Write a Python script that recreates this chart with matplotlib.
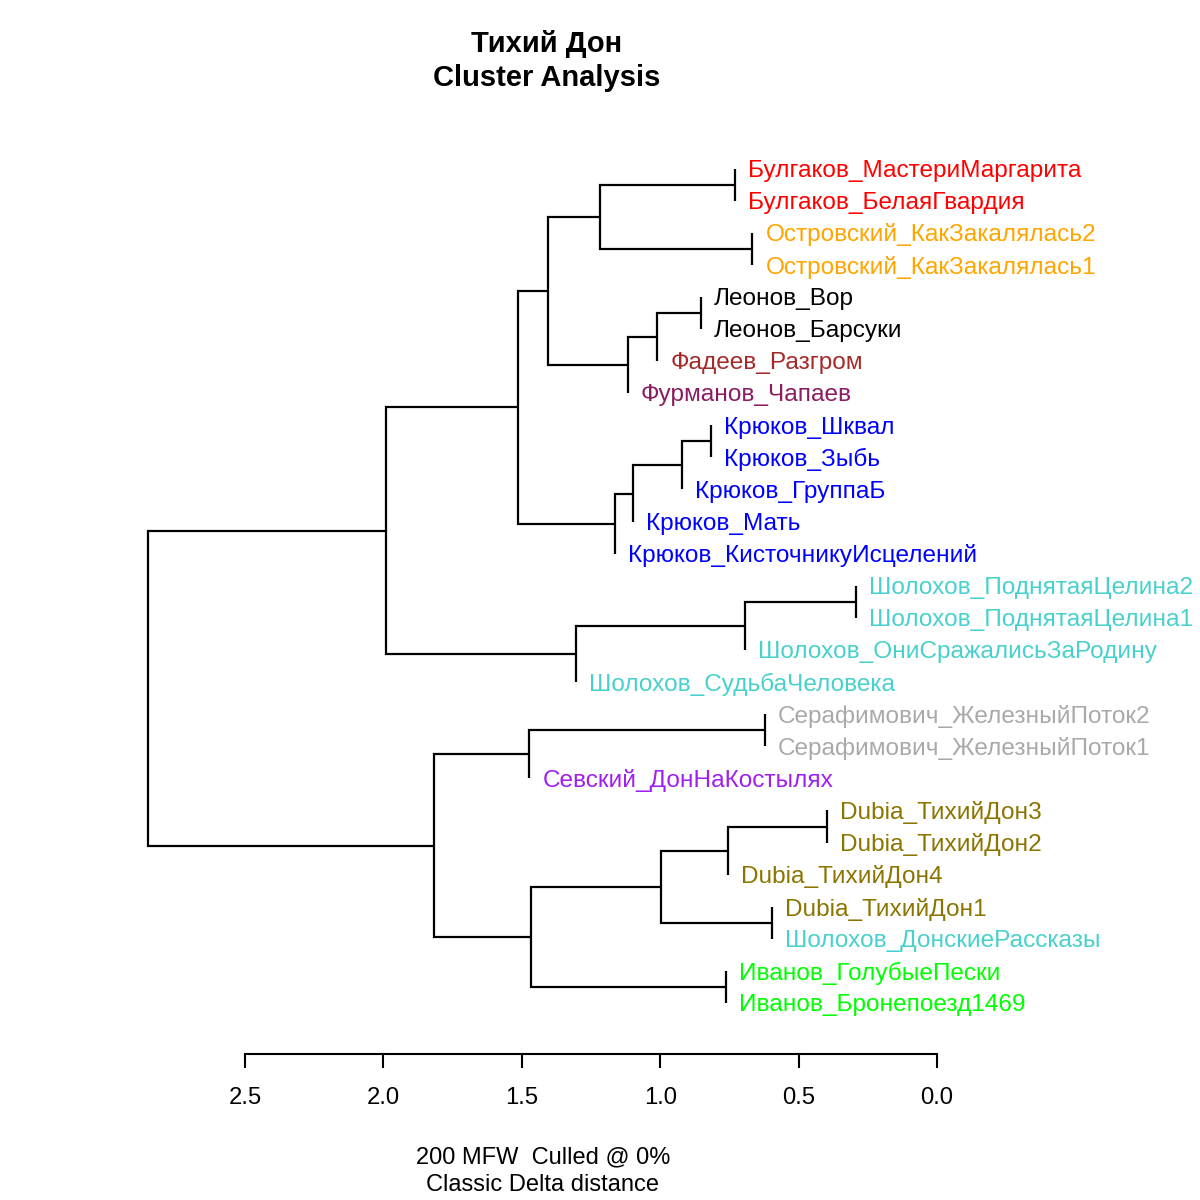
import matplotlib
matplotlib.use("Agg")
import matplotlib.pyplot as plt

plt.rcParams['font.family'] = ['Liberation Sans', 'DejaVu Sans']

# ---- data ----
leaf_labels = [
    "Булгаков_МастериМаргарита", "Булгаков_БелаяГвардия",
    "Островский_КакЗакалялась2", "Островский_КакЗакалялась1",
    "Леонов_Вор", "Леонов_Барсуки", "Фадеев_Разгром", "Фурманов_Чапаев",
    "Крюков_Шквал", "Крюков_Зыбь", "Крюков_ГруппаБ", "Крюков_Мать",
    "Крюков_КисточникуИсцелений",
    "Шолохов_ПоднятаяЦелина2", "Шолохов_ПоднятаяЦелина1",
    "Шолохов_ОниСражалисьЗаРодину", "Шолохов_СудьбаЧеловека",
    "Серафимович_ЖелезныйПоток2", "Серафимович_ЖелезныйПоток1",
    "Севский_ДонНаКостылях",
    "Dubia_ТихийДон3", "Dubia_ТихийДон2", "Dubia_ТихийДон4", "Dubia_ТихийДон1",
    "Шолохов_ДонскиеРассказы",
    "Иванов_ГолубыеПески", "Иванов_Бронепоезд1469",
]
leaf_colors = [
    "red", "red", "orange", "orange", "black", "black", "brown", "#8B1C62",
    "blue", "blue", "blue", "blue", "blue",
    "#48D1CC", "#48D1CC", "#48D1CC", "#48D1CC",
    "darkgrey", "darkgrey", "#A020F0",
    "#8B7500", "#8B7500", "#8B7500", "#8B7500", "#48D1CC",
    "#00FF00", "#00FF00",
]
# hclust-style merges: negative = leaf (1-based), positive = earlier merge (1-based)
merge_left = [-14, -21, -24, -18, -3, 1, -1, 2, -26, -9, -5, 10, 8, 11, 12, 14, 15, 7, 6, 18, 13, 4, 20, 22, 23, 25]
merge_right = [-15, -22, -25, -19, -4, -16, -2, -23, -27, -10, -6, -11, 3, -7, -12, -8, -13, 5, -17, 16, 9, -20, 17, 21, 19, 24]
merge_height = [0.294, 0.396, 0.595, 0.621, 0.667, 0.694, 0.730, 0.756, 0.762,
                0.818, 0.854, 0.921, 0.997, 1.010, 1.098, 1.117, 1.164, 1.217,
                1.304, 1.404, 1.467, 1.473, 1.513, 1.816, 1.991, 2.849]
axis_ticks = [2.5, 2.0, 1.5, 1.0, 0.5, 0.0]

title_lines = ["Тихий Дон", "Cluster Analysis"]
sub_lines = ["200 MFW  Culled @ 0%", "Classic Delta distance"]

# ---- figure ----
W = H = 1200
fig = plt.figure(figsize=(12, 12), dpi=100)
ax = fig.add_axes([245 / W, (H - 1054) / H, (937 - 245) / W, (1054 - 120) / H])
ax.set_xlim(2.5, 0.0)
ax.set_ylim(27.586, -1.511)

n_leaves = len(leaf_labels)
leaf_y = list(range(n_leaves))
node_x = []
node_y = []
leaf_x = [0.0] * n_leaves


def child_pos(c):
    if c < 0:
        return None, leaf_y[-c - 1]
    return node_x[c - 1], node_y[c - 1]


for l, r, h in zip(merge_left, merge_right, merge_height):
    lx, ly = child_pos(l)
    rx, ry = child_pos(r)
    if l < 0:
        lx = h
        leaf_x[-l - 1] = h
    if r < 0:
        rx = h
        leaf_x[-r - 1] = h
    ax.plot([lx, h, h, rx], [ly, ly, ry, ry], color="black", lw=1.6,
            solid_joinstyle="miter", solid_capstyle="butt", clip_on=False)
    node_x.append(h)
    node_y.append((ly + ry) / 2)

label_offset = 0.047
label_dy = 0.07
for lab, col, x, y in zip(leaf_labels, leaf_colors, leaf_x, leaf_y):
    ax.text(x - label_offset, y + label_dy, lab, color=col, fontsize=17.6,
            ha="left", va="center", clip_on=False)

for s in ["top", "left", "right"]:
    ax.spines[s].set_visible(False)
ax.spines["bottom"].set_linewidth(1.5)
ax.set_yticks([])
ax.set_xticks(axis_ticks)
ax.set_xticklabels([f"{t:.1f}" for t in axis_ticks], fontsize=17.2)
ax.tick_params(axis="x", direction="out", length=10, width=1.5, pad=14)
ax.patch.set_visible(False)

fig.text(547 / W, 1 - 43.5 / H, title_lines[0], ha="center", va="center",
         fontsize=21, weight="bold")
fig.text(547 / W, 1 - 78.5 / H, title_lines[1], ha="center", va="center",
         fontsize=21, weight="bold")
fig.text(543 / W, 1 - 1157 / H, sub_lines[0], ha="center", va="center", fontsize=17)
fig.text(543 / W, 1 - 1185 / H, sub_lines[1], ha="center", va="center", fontsize=17)

fig.savefig("out.png", dpi=100, facecolor="white")
